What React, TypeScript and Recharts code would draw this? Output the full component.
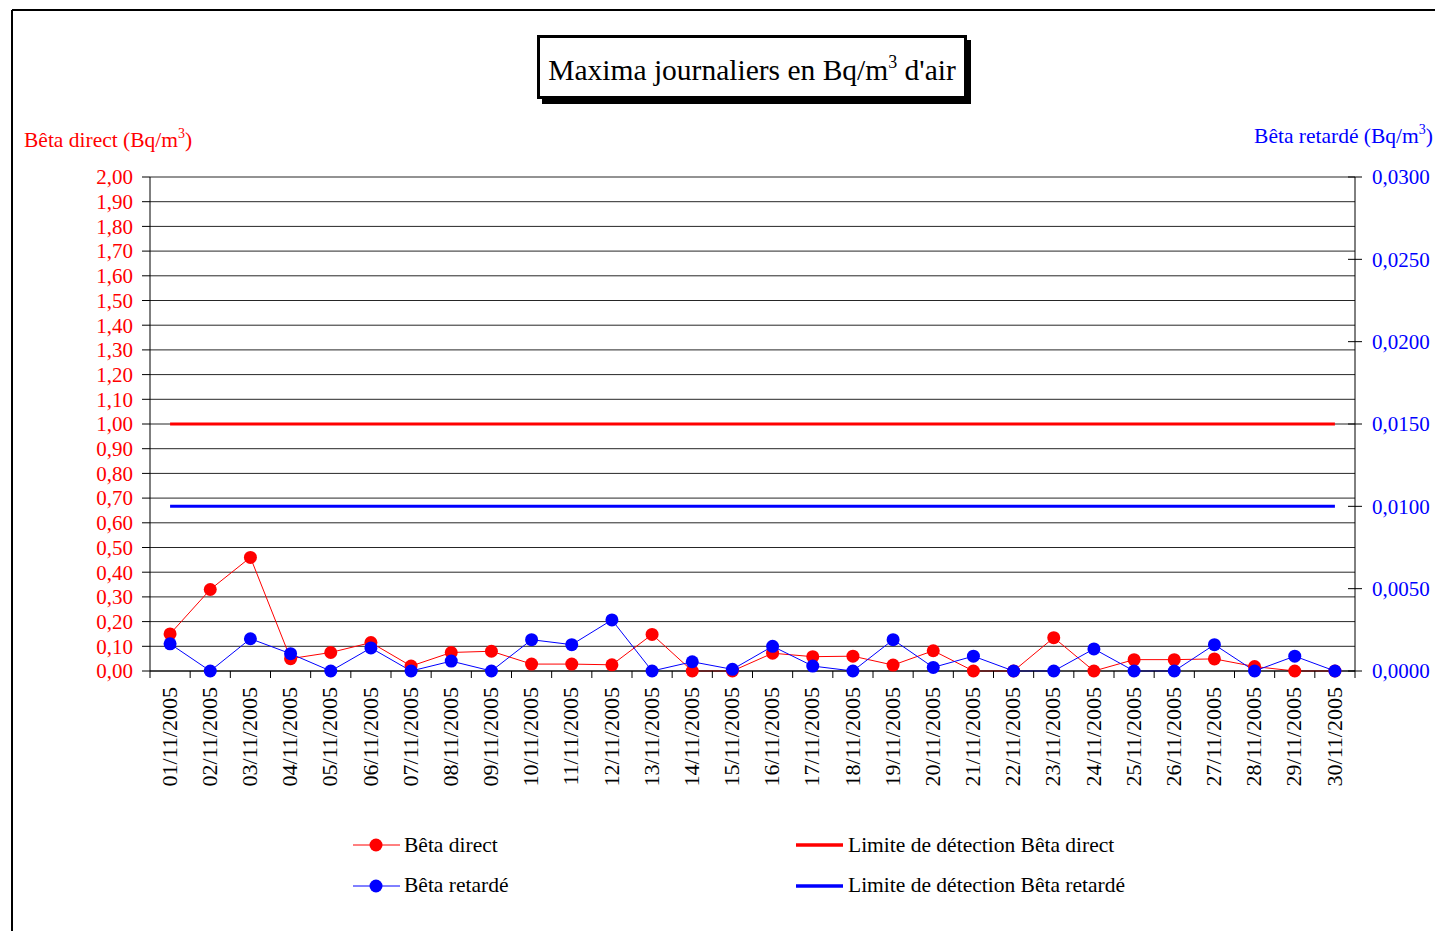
import React from "react";
import {
  ComposedChart,
  Line,
  XAxis,
  YAxis,
  CartesianGrid,
} from "recharts";

const FONT = '"Liberation Serif", "Times New Roman", serif';

const dates = [
  "01/11/2005", "02/11/2005", "03/11/2005", "04/11/2005", "05/11/2005",
  "06/11/2005", "07/11/2005", "08/11/2005", "09/11/2005", "10/11/2005",
  "11/11/2005", "12/11/2005", "13/11/2005", "14/11/2005", "15/11/2005",
  "16/11/2005", "17/11/2005", "18/11/2005", "19/11/2005", "20/11/2005",
  "21/11/2005", "22/11/2005", "23/11/2005", "24/11/2005", "25/11/2005",
  "26/11/2005", "27/11/2005", "28/11/2005", "29/11/2005", "30/11/2005",
];

// Bq/m3, left axis
const betaDirect = [
  0.15, 0.33, 0.46, 0.05, 0.075, 0.115, 0.02, 0.075, 0.08, 0.028,
  0.028, 0.025, 0.148, 0, 0, 0.072, 0.058, 0.06, 0.024, 0.082,
  0, 0, 0.135, 0, 0.046, 0.046, 0.049, 0.018, 0, 0,
];

// Bq/m3, right axis
const betaRetarde = [
  0.00165, 0, 0.00196, 0.00105, 0, 0.0014, 0, 0.0006, 0, 0.0019,
  0.0016, 0.0031, 0, 0.00056, 0.0001, 0.0015, 0.0003, 0, 0.0019, 0.00022,
  0.0009, 0, 0, 0.00134, 0, 0, 0.0016, 0, 0.0009, 0,
];

const limiteDirect = 1.0;
const limiteRetarde = 0.01;

const leftTicks = [
  0, 0.1, 0.2, 0.3, 0.4, 0.5, 0.6, 0.7, 0.8, 0.9, 1.0,
  1.1, 1.2, 1.3, 1.4, 1.5, 1.6, 1.7, 1.8, 1.9, 2.0,
];
const rightTicks = [0, 0.005, 0.01, 0.015, 0.02, 0.025, 0.03];

const RED = "#ff0000";
const BLUE = "#0000ff";

const data = dates.map((d, i) => ({
  date: d,
  direct: betaDirect[i],
  retarde: betaRetarde[i],
  limDirect: limiteDirect,
  limRetarde: limiteRetarde,
}));

function DateTick(props: any) {
  const { x, y, payload, index } = props;
  const half = payload && payload.offset ? payload.offset : 20.08;
  return (
    <g>
      <line x1={x - half} y1={y} x2={x - half} y2={y + 7} stroke="#000" />
      {index === dates.length - 1 && (
        <line x1={x + half} y1={y} x2={x + half} y2={y + 7} stroke="#000" />
      )}
      <text
        x={x}
        y={y + 16}
        dy="0.3em"
        textAnchor="end"
        transform={`rotate(-90, ${x}, ${y + 16})`}
        fontFamily={FONT}
        fontSize={22}
        fill="#000"
      >
        {payload.value}
      </text>
    </g>
  );
}

function LeftTick(props: any) {
  const { x, y, payload } = props;
  return (
    <g>
      <line x1={x - 8} y1={y} x2={x} y2={y} stroke="#000" />
      <text x={x - 17} y={y} dy="0.35em" textAnchor="end" fontFamily={FONT} fontSize={21} fill={RED}>
        {payload.value.toFixed(2).replace(".", ",")}
      </text>
    </g>
  );
}

function RightTick(props: any) {
  const { x, y, payload } = props;
  return (
    <g>
      <line x1={x - 7} y1={y} x2={x + 7} y2={y} stroke="#000" />
      <text x={x + 17} y={y} dy="0.35em" textAnchor="start" fontFamily={FONT} fontSize={21} fill={BLUE}>
        {payload.value.toFixed(4).replace(".", ",")}
      </text>
    </g>
  );
}

function Overlay() {
  return (
    <svg
      width={1435}
      height={931}
      style={{ position: "absolute", left: 0, top: 0, pointerEvents: "none" }}
    >
      {/* frame */}
      <line x1={12} y1={10} x2={1435} y2={10} stroke="#000" strokeWidth={2} />
      <line x1={12} y1={10} x2={12} y2={931} stroke="#000" strokeWidth={2} />

      {/* title box */}
      <rect x={542} y={40} width={429} height={64} fill="#000" />
      <rect x={538.5} y={36.5} width={427} height={61} fill="#fff" stroke="#000" strokeWidth={3} />
      <text x={752} y={80} textAnchor="middle" fontFamily={FONT} fontSize={29.5} fill="#000">
        Maxima journaliers en Bq/m
        <tspan fontSize={18} dy={-12}>3</tspan>
        <tspan dy={12}> d'air</tspan>
      </text>

      {/* axis titles */}
      <text x={24} y={147} fontFamily={FONT} fontSize={21.5} fill={RED}>
        Bêta direct (Bq/m
        <tspan fontSize={14} dy={-9}>3</tspan>
        <tspan dy={9}>)</tspan>
      </text>
      <text x={1433} y={143} textAnchor="end" fontFamily={FONT} fontSize={21.5} fill={BLUE}>
        Bêta retardé (Bq/m
        <tspan fontSize={14} dy={-9}>3</tspan>
        <tspan dy={9}>)</tspan>
      </text>

      {/* legend */}
      <line x1={353} y1={845} x2={400} y2={845} stroke={RED} strokeWidth={1} />
      <circle cx={376} cy={845} r={6.5} fill={RED} />
      <text x={404} y={852} fontFamily={FONT} fontSize={21.5} fill="#000">Bêta direct</text>

      <line x1={353} y1={886} x2={400} y2={886} stroke={BLUE} strokeWidth={1} />
      <circle cx={376} cy={886} r={6.5} fill={BLUE} />
      <text x={404} y={892} fontFamily={FONT} fontSize={21.5} fill="#000">Bêta retardé</text>

      <line x1={796} y1={845} x2={843} y2={845} stroke={RED} strokeWidth={3.5} />
      <text x={848} y={852} fontFamily={FONT} fontSize={21.5} fill="#000">Limite de détection Bêta direct</text>

      <line x1={796} y1={886} x2={843} y2={886} stroke={BLUE} strokeWidth={3.5} />
      <text x={848} y={892} fontFamily={FONT} fontSize={21.5} fill="#000">Limite de détection Bêta retardé</text>
    </svg>
  );
}

export default function App() {
  return (
    <div
      style={{
        position: "absolute",
        left: 0,
        top: 0,
        width: 1435,
        height: 931,
        background: "#fff",
        overflow: "hidden",
      }}
    >
      <ComposedChart
        width={1435}
        height={931}
        data={data}
        margin={{ top: 177, right: 0, bottom: 0, left: 0 }}
      >
        <CartesianGrid yAxisId="left" vertical={false} stroke="#000" strokeOpacity={0.85} />
        <XAxis
          dataKey="date"
          scale="band"
          interval={0}
          height={260}
          tickSize={0}
          tickMargin={0}
          tickLine={false}
          axisLine={{ stroke: "#000" }}
          tick={<DateTick />}
        />
        <YAxis
          yAxisId="left"
          orientation="left"
          width={150}
          domain={[0, 2]}
          ticks={leftTicks}
          interval={0}
          tickSize={0}
          tickMargin={0}
          tickLine={false}
          axisLine={{ stroke: "#000" }}
          tick={<LeftTick />}
        />
        <YAxis
          yAxisId="right"
          orientation="right"
          width={80}
          domain={[0, 0.03]}
          ticks={rightTicks}
          interval={0}
          tickSize={0}
          tickMargin={0}
          tickLine={false}
          axisLine={{ stroke: "#000" }}
          tick={<RightTick />}
        />
        <Line
          yAxisId="left"
          dataKey="limDirect"
          stroke={RED}
          strokeWidth={3}
          dot={false}
          activeDot={false}
          isAnimationActive={false}
        />
        <Line
          yAxisId="right"
          dataKey="limRetarde"
          stroke={BLUE}
          strokeWidth={3}
          dot={false}
          activeDot={false}
          isAnimationActive={false}
        />
        <Line
          yAxisId="left"
          type="linear"
          dataKey="direct"
          stroke={RED}
          strokeWidth={1}
          dot={{ r: 6.5, fill: RED, stroke: "none" }}
          activeDot={false}
          isAnimationActive={false}
        />
        <Line
          yAxisId="right"
          type="linear"
          dataKey="retarde"
          stroke={BLUE}
          strokeWidth={1}
          dot={{ r: 6.5, fill: BLUE, stroke: "none" }}
          activeDot={false}
          isAnimationActive={false}
        />
      </ComposedChart>
      <Overlay />
    </div>
  );
}
